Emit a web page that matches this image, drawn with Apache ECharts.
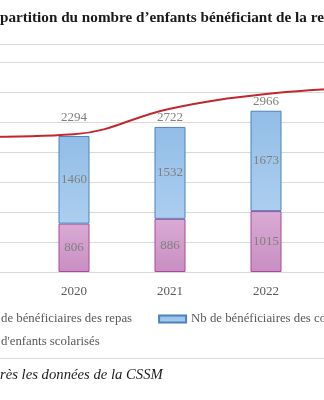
<!DOCTYPE html>
<html><head><meta charset="utf-8">
<script src="https://cdn.jsdelivr.net/npm/echarts@6/dist/echarts.min.js"></script>
<style>
html,body{margin:0;padding:0;width:324px;height:400px;overflow:hidden;background:#fff;position:relative}
#c{position:absolute;left:-120px;top:0;width:600px;height:400px}
</style></head><body><div id="c"></div>
<script>
// ---- data ----
const categories = ['2019', '2020', '2021', '2022', '2023'];
const repas = [null, 806, 886, 1015, null];
const collations = [null, 1460, 1532, 1673, null];
const scolarises = [2250, 2294, 2722, 2966, 3070];
const yMin = 0, yMax = 3500, yInterval = 500;
const seriesNames = ['Nb de bénéficiaires des repas', 'Nb de bénéficiaires des collations', "Nb d'enfants scolarisés"];
const titleText = 'Répartition du nombre d’enfants bénéficiant de la restauration scolaire';
const sourceText = 'Source : d’après les données de la CSSM';

// ---- layout helpers ----
const SHIFT = 120; // container is shifted left by this many px
const FONT = '"Liberation Serif", "Times New Roman", serif';
const mctx = document.createElement('canvas').getContext('2d');
function tw(t, font) { mctx.font = font; return mctx.measureText(t).width; }

const titleFont = 'bold 15.2px "Liberation Serif"';
const srcFont = 'italic 14.7px "Liberation Serif"';
const legFontSize = 12.8;
const legFont = legFontSize + 'px "Liberation Serif"';
const titleX = SHIFT - tw('Ré', titleFont);
const srcX = SHIFT - tw('Source : d’ap', srcFont);
const legLeft = SHIFT - (27 + 5 + tw('Nb ', legFont));

const lblPos = ['top', 'top', 'bottom', 'bottom', 'top'];
const lblDist = [10, 10, 2, 1, 10];
const lineData = scolarises.map((v, i) => ({
  value: v,
  label: { position: lblPos[i], distance: lblDist[i] }
}));

const grad = (a, b) => new echarts.graphic.LinearGradient(0, 0, 0, 1, [{ offset: 0, color: a }, { offset: 1, color: b }]);

const chart = echarts.init(document.getElementById('c'), null, { renderer: 'canvas' });
chart.setOption({
  animation: false,
  backgroundColor: '#fff',
  textStyle: { fontFamily: FONT },
  grid: { left: 50, width: 480, top: 62, height: 210, containLabel: false },
  legend: [
    {
      data: [{ name: seriesNames[0], icon: 'rect' }, { name: seriesNames[1], icon: 'rect' }],
      left: legLeft, top: 311, padding: 0, itemGap: 26, itemWidth: 27, itemHeight: 7,
      textStyle: { fontFamily: FONT, fontSize: legFontSize, color: '#595959', lineHeight: 16 }
    },
    {
      data: [{ name: seriesNames[2] }],
      left: legLeft, top: 334, padding: 0, itemWidth: 27, itemHeight: 7,
      textStyle: { fontFamily: FONT, fontSize: legFontSize, color: '#595959', lineHeight: 16 }
    }
  ],
  xAxis: {
    type: 'category', data: categories,
    axisLine: { lineStyle: { color: '#d9d9d9' } },
    axisTick: { show: false },
    axisLabel: { color: '#595959', fontSize: 13, fontFamily: FONT, margin: 13 }
  },
  yAxis: {
    type: 'value', min: yMin, max: yMax, interval: yInterval,
    axisLabel: { show: false }, axisLine: { show: false }, axisTick: { show: false },
    splitLine: { lineStyle: { color: '#d9d9d9', width: 1 } }
  },
  series: [
    {
      name: seriesNames[0], type: 'bar', stack: 'a', data: repas, barWidth: 31,
      itemStyle: { color: grad('#d9abd4', '#c98ec2'), borderColor: '#a8489c', borderWidth: 1 },
      label: { show: true, position: 'inside', color: '#7f7f7f', fontSize: 13, fontFamily: FONT }
    },
    {
      name: seriesNames[1], type: 'bar', stack: 'a', data: collations, barWidth: 31,
      itemStyle: { color: grad('#92bde7', '#acceef'), borderColor: '#4a82c0', borderWidth: 1 },
      label: { show: true, position: 'inside', color: '#7f7f7f', fontSize: 13, fontFamily: FONT }
    },
    {
      name: seriesNames[2], type: 'line', data: lineData, smooth: 0.4,
      symbol: 'circle', symbolSize: 0, showSymbol: true, z: 5,
      lineStyle: { color: '#c0282e', width: 2 }, itemStyle: { color: '#c0282e' },
      label: { show: true, color: '#7f7f7f', fontSize: 13, fontFamily: FONT }
    }
  ],
  graphic: [
    { type: 'text', left: titleX, top: 11, style: { text: titleText, font: titleFont, fill: '#1a1a1a' } },
    { type: 'line', shape: { x1: 0, y1: 44.5, x2: 600, y2: 44.5 }, style: { stroke: '#d9d9d9', lineWidth: 1 } },
    { type: 'line', shape: { x1: 0, y1: 358.5, x2: 600, y2: 358.5 }, style: { stroke: '#d9d9d9', lineWidth: 1 } },
    { type: 'text', left: srcX, top: 368, style: { text: sourceText, font: srcFont, fill: '#1a1a1a' } }
  ]
});
</script></body></html>
